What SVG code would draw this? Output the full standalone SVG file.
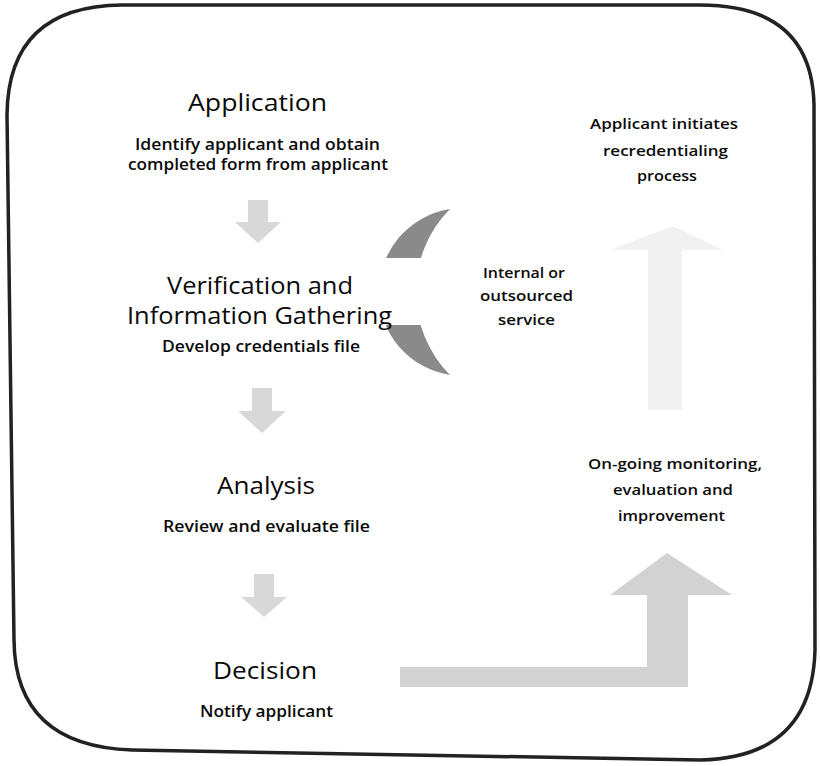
<svg xmlns="http://www.w3.org/2000/svg" width="820" height="766" viewBox="0 0 820 766">
  <style>
    .t { font-family: "Open Sans", "Liberation Sans", sans-serif; fill: #0a0a0a; text-anchor: middle; }
    .h { font-size: 24px; font-weight: 500; }
    .s { font-size: 16px; font-weight: 600; }
    .r { font-size: 15px; font-weight: 600; }
    .frame { fill: #ffffff; stroke: #222222; stroke-width: 3.5; }
    .down { fill: #d8d8d8; }
    .faint { fill: #f1f1f1; }
    .dark { fill: #8a8a8a; }
    .loop { fill: #d2d2d2; }
  </style>
  <defs>
    <clipPath id="gapclip">
      <rect x="350" y="195" width="260" height="63"/>
      <rect x="350" y="325" width="260" height="60"/>
    </clipPath>
  </defs>

  <g id="frame">
    <path class="frame" d="M 122 5 L 700 5 Q 812 5 814 105 L 815 650 Q 812 758 700 760 L 132 750 Q 15 746 14 640 L 7 115 Q 8 6 122 5 Z"/>
  </g>

  <g id="connectors">
    <path id="down1" class="down" d="M 248 200 L 268 200 L 268 222 L 281 222 L 258 243 L 235 222 L 248 222 Z"/>
    <path id="down2" class="down" d="M 252 388 L 272 388 L 272 411 L 286 411 L 262 433 L 238 411 L 252 411 Z"/>
    <path id="down3" class="down" d="M 254 574 L 274 574 L 274 597 L 287 597 L 264 617 L 241 597 L 254 597 Z"/>
    <path id="upfaint" class="faint" d="M 648 410 L 682 410 L 682 250 L 723 250 L 673 226 L 610 250 L 648 250 Z"/>
    <path id="crescent" class="dark" clip-path="url(#gapclip)" d="M 450 209 A 84 84 0 0 0 450 375 A 118 118 0 0 1 450 209 Z"/>
    <path id="loopback" class="loop" d="M 400 667 L 647 667 L 647 595 L 610 595 L 667 553 L 732 595 L 688 595 L 688 687 L 400 687 Z"/>
  </g>

  <g id="application">
    <text class="t h" x="257.5" y="111" textLength="139" lengthAdjust="spacingAndGlyphs">Application</text>
    <text class="t s" x="257.5" y="150" textLength="245" lengthAdjust="spacingAndGlyphs">Identify applicant and obtain</text>
    <text class="t s" x="258" y="170" textLength="260" lengthAdjust="spacingAndGlyphs">completed form from applicant</text>
  </g>

  <g id="verification">
    <text class="t h" x="260" y="294" textLength="186" lengthAdjust="spacingAndGlyphs">Verification and</text>
    <text class="t h" x="259.5" y="324" textLength="265" lengthAdjust="spacingAndGlyphs">Information Gathering</text>
    <text class="t s" x="261" y="352" textLength="198" lengthAdjust="spacingAndGlyphs">Develop credentials file</text>
  </g>

  <g id="analysis">
    <text class="t h" x="266" y="494" textLength="98" lengthAdjust="spacingAndGlyphs">Analysis</text>
    <text class="t s" x="266.5" y="532" textLength="207" lengthAdjust="spacingAndGlyphs">Review and evaluate file</text>
  </g>

  <g id="decision">
    <text class="t h" x="265" y="679" textLength="104" lengthAdjust="spacingAndGlyphs">Decision</text>
    <text class="t s" x="266.5" y="717" textLength="133" lengthAdjust="spacingAndGlyphs">Notify applicant</text>
  </g>

  <g id="recredentialing">
    <text class="t r" x="664" y="129" textLength="148" lengthAdjust="spacingAndGlyphs">Applicant initiates</text>
    <text class="t r" x="665.5" y="156" textLength="125" lengthAdjust="spacingAndGlyphs">recredentialing</text>
    <text class="t r" x="667" y="181" textLength="60" lengthAdjust="spacingAndGlyphs">process</text>
  </g>

  <g id="service">
    <text class="t r" x="524" y="278" textLength="82" lengthAdjust="spacingAndGlyphs">Internal or</text>
    <text class="t r" x="526.5" y="301" textLength="93" lengthAdjust="spacingAndGlyphs">outsourced</text>
    <text class="t r" x="526.5" y="325" textLength="57" lengthAdjust="spacingAndGlyphs">service</text>
  </g>

  <g id="monitoring">
    <text class="t r" x="675" y="469" textLength="174" lengthAdjust="spacingAndGlyphs">On-going monitoring,</text>
    <text class="t r" x="673" y="495" textLength="120" lengthAdjust="spacingAndGlyphs">evaluation and</text>
    <text class="t r" x="671.5" y="521" textLength="107" lengthAdjust="spacingAndGlyphs">improvement</text>
  </g>
</svg>
